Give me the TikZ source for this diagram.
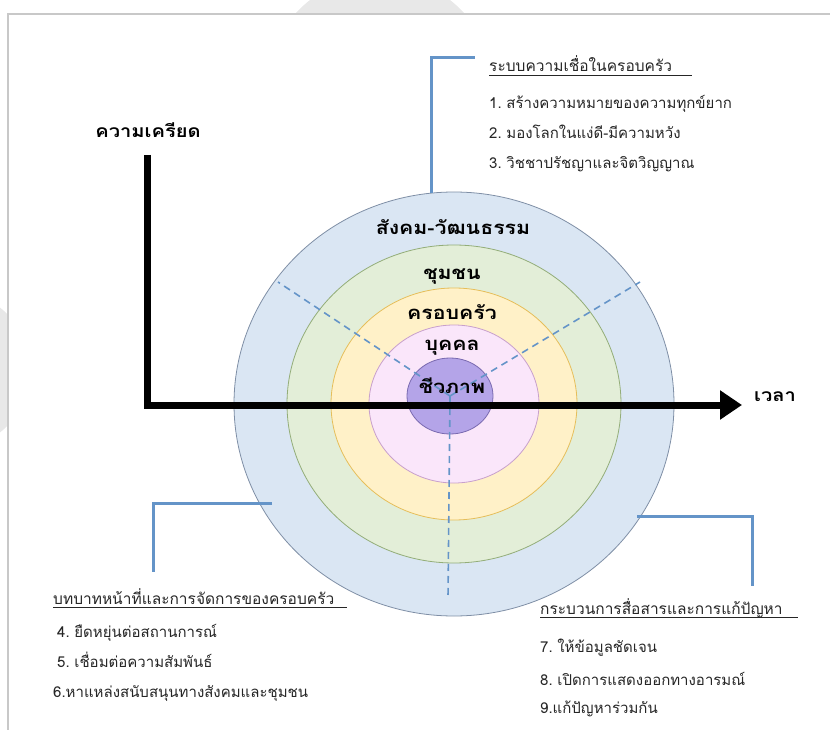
\documentclass[tikz,border=0pt]{standalone}
\usepackage{fontspec}
\setmainfont{Liberation Sans}
\newfontfamily\thai[Script=Thai, WordSpace=0.6]{Loma}
\newfontfamily\thaiwide[Script=Thai, FakeStretch=1.15]{Loma}
\usetikzlibrary{arrows.meta}
\definecolor{wmgray}{HTML}{E8E8E8}
\definecolor{framegray}{HTML}{C8C8C8}
\definecolor{linkblue}{HTML}{6494C8}
\definecolor{ringA}{HTML}{DAE6F3}
\definecolor{ringAb}{HTML}{7F8FA6}
\definecolor{ringB}{HTML}{E3EED8}
\definecolor{ringBb}{HTML}{93AD78}
\definecolor{ringC}{HTML}{FFF1C8}
\definecolor{ringCb}{HTML}{E6BE5A}
\definecolor{ringD}{HTML}{FAE6FA}
\definecolor{ringDb}{HTML}{C8A0CC}
\definecolor{ringE}{HTML}{B4A4E8}
\definecolor{ringEb}{HTML}{7A6AB0}
\tikzset{
  txt/.style={inner sep=0pt, anchor=base west, font=\thai\fontsize{15}{17}\selectfont, text=black!85},
  headtxt/.style={txt, font=\thai\fontsize{15.5}{17}\selectfont},
  ringlabel/.style={inner sep=0pt, anchor=base, font=\thaiwide\bfseries\fontsize{18.5}{20}\selectfont},
  axislabel/.style={inner sep=0pt, font=\thaiwide\bfseries\fontsize{17.5}{19}\selectfont},
  link/.style={linkblue, line width=3pt},
  spoke/.style={linkblue, line width=1.6pt, dash pattern=on 7pt off 5pt},
  axisline/.style={black, line width=7pt, line join=miter},
  uline/.style={black!85, line width=0.8pt}
}
\begin{document}
\begin{tikzpicture}[x=1pt,y=-1pt]
\useasboundingbox (0,0) rectangle (830,730);
% watermark and frame
\fill[wmgray] (380,90) circle (114pt);
\fill[wmgray] (-50,370) circle (80pt);
\draw[framegray, fill=white, line width=1.5pt] (8,14) rectangle (845,745);
% rings
\draw[fill=ringA, draw=ringAb, line width=0.8pt] (454,404) ellipse [x radius=220pt, y radius=212pt];
\draw[fill=ringB, draw=ringBb, line width=0.8pt] (454,404) ellipse [x radius=167pt, y radius=159pt];
\draw[fill=ringC, draw=ringCb, line width=0.8pt] (454,404) ellipse [x radius=123pt, y radius=116pt];
\draw[fill=ringD, draw=ringDb, line width=0.8pt] (454,404) ellipse [x radius=85pt, y radius=79pt];
\draw[fill=ringE, draw=ringEb, line width=0.8pt] (450,396) ellipse [x radius=43pt, y radius=38pt];
% spokes
\coordinate (ctr) at (450,396);
\coordinate (sp1) at (278,282);
\coordinate (sp2) at (640,282);
\coordinate (sp3) at (448,598);
\draw[spoke] (ctr) -- (sp1);
\draw[spoke] (ctr) -- (sp2);
\draw[spoke] (ctr) -- (sp3);
% axes
\coordinate (ytop) at (147,155);
\coordinate (orig) at (147,405);
\coordinate (xend) at (742,405);
\draw[axisline, -{Triangle[length=22pt,width=28pt]}] (ytop) -- (orig) -- (xend);
\node[axislabel] (stress) at (148,130) {ความเครียด};
\node[axislabel, anchor=west] (time) at (754,397) {เวลา};
% ring labels
\node[ringlabel] (l1) at (453,235) {สังคม-วัฒนธรรม};
\node[ringlabel] (l2) at (452,279) {ชุมชน};
\node[ringlabel] (l3) at (452,319) {ครอบครัว};
\node[ringlabel] (l4) at (452,350) {บุคคล};
\node[ringlabel] (l5) at (452,393) {ชีวภาพ};
% top group
\coordinate (t0) at (431,193);
\coordinate (t1) at (431,58);
\coordinate (t2) at (475,58);
\draw[link] (t0) -- (t1) -- (t2);
\node[headtxt] (th) at (489,72) {ระบบความเชื่อในครอบครัว};
\draw[uline] (489,75) -- (692,75);
\node[txt] (ti1) at (489,109) {1. สร้างความหมายของความทุกข์ยาก};
\node[txt] (ti2) at (489,139) {2. มองโลกในแง่ดี-มีความหวัง};
\node[txt] (ti3) at (489,169) {3. วิชชาปรัชญาและจิตวิญญาณ};
% bottom-left group
\coordinate (b0) at (272,503);
\coordinate (b1) at (153,503);
\coordinate (b2) at (153,572);
\draw[link] (b0) -- (b1) -- (b2);
\node[headtxt] (bh) at (53,604) {บทบาทหน้าที่และการจัดการของครอบครัว};
\draw[uline] (53,607) -- (347,607);
\node[txt] (bi1) at (57,637) {4. ยืดหยุ่นต่อสถานการณ์};
\node[txt] (bi2) at (57,667) {5. เชื่อมต่อความสัมพันธ์};
\node[txt] (bi3) at (53,697) {6.หาแหล่งสนับสนุนทางสังคมและชุมชน};
% bottom-right group
\coordinate (r0) at (637,516);
\coordinate (r1) at (752,516);
\coordinate (r2) at (752,586);
\draw[link] (r0) -- (r1) -- (r2);
\node[headtxt] (rh) at (540,614) {กระบวนการสื่อสารและการแก้ปัญหา};
\draw[uline] (540,617) -- (798,617);
\node[txt] (ri1) at (540,652) {7. ให้ข้อมูลชัดเจน};
\node[txt] (ri2) at (540,685) {8. เปิดการแสดงออกทางอารมณ์};
\node[txt] (ri3) at (540,713) {9.แก้ปัญหาร่วมกัน};
\end{tikzpicture}
\end{document}
